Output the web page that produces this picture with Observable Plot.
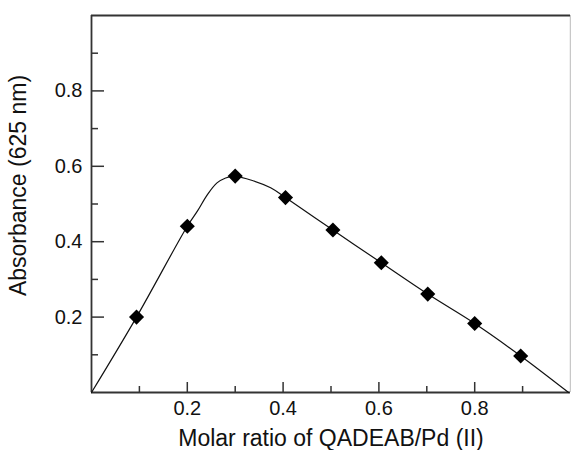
<!DOCTYPE html>
<html><head><meta charset="utf-8">
<script src="https://cdn.jsdelivr.net/npm/d3@7"></script>
<script src="https://cdn.jsdelivr.net/npm/@observablehq/plot@0.6"></script>
<style>body{margin:0;background:#fff} svg{display:block}</style>
</head><body><div id="chart"></div>
<script>
const ratio = [0.094, 0.2, 0.3, 0.405, 0.504, 0.605, 0.702, 0.8, 0.896];
const absorbance = [0.2, 0.441, 0.574, 0.517, 0.431, 0.344, 0.261, 0.183, 0.097];
// fitted curve
const curveRatio = [0, 0.094, 0.2, 0.221, 0.242, 0.262, 0.28, 0.297, 0.339, 0.374, 0.405, 0.504, 0.605, 0.702, 0.8, 0.896, 0.996];
const curveAbs   = [0, 0.2, 0.441, 0.481, 0.525, 0.556, 0.569, 0.574, 0.561, 0.543, 0.517, 0.431, 0.344, 0.261, 0.183, 0.097, 0];
const xMajor = [0.2, 0.4, 0.6, 0.8];
const xMinor = [0.1, 0.3, 0.5, 0.7, 0.9];
const yMajor = [0.2, 0.4, 0.6, 0.8];
const yMinor = [0.1, 0.3, 0.5, 0.7, 0.9];
const xTitle = "Molar ratio of QADEAB/Pd (II)";
const yTitle = "Absorbance (625 nm)";

const W = 571, H = 450, mL = 91, mR = 1, mT = 15, mB = 58;
const fw = W - mL - mR, fh = H - mT - mB;
const pts = ratio.map((x, i) => ({x, y: absorbance[i]}));
const curve = curveRatio.map((x, i) => ({x, y: curveAbs[i]}));

const chart = Plot.plot({
  width: W, height: H,
  marginLeft: mL, marginRight: mR, marginTop: mT, marginBottom: mB,
  style: {fontFamily: "'Liberation Sans', Arial, sans-serif", background: "#fff", color: "#111"},
  x: {domain: [0, 1]},
  y: {domain: [0, 1]},
  marks: [
    Plot.ruleX([1], {stroke: "#c8c8c8", strokeWidth: 1.5}),
    Plot.ruleY([1], {stroke: "#333", strokeWidth: 2}),
    Plot.ruleX([0], {stroke: "#333", strokeWidth: 1.8}),
    Plot.ruleY([0], {stroke: "#333", strokeWidth: 1.8}),
    Plot.tickX(xMajor, {x: d => d, insetTop: fh - 10, stroke: "#333", strokeWidth: 1.5}),
    Plot.tickX(xMinor, {x: d => d, insetTop: fh - 6, stroke: "#333", strokeWidth: 1.5}),
    Plot.tickY(yMajor, {y: d => d, insetRight: fw - 13, stroke: "#333", strokeWidth: 1.5}),
    Plot.tickY(yMinor, {y: d => d, insetRight: fw - 7, stroke: "#333", strokeWidth: 1.5}),
    Plot.axisX(xMajor, {tickSize: 0, tickPadding: 8, fontSize: 20, label: null, tickFormat: d3.format(".1f")}),
    Plot.axisY(yMajor, {tickSize: 0, tickPadding: 9, fontSize: 20, label: null, tickFormat: d3.format(".1f")}),
    Plot.line(curve, {x: "x", y: "y", curve: "catmull-rom", stroke: "#111", strokeWidth: 1.2}),
    Plot.dot(pts, {x: "x", y: "y", symbol: "diamond2", r: 6.8, fill: "#000", stroke: "none"}),
    Plot.text([xTitle], {frameAnchor: "bottom", dy: 46, lineAnchor: "middle", textAnchor: "middle", fontSize: 23, fill: "#111"}),
    Plot.text([yTitle], {frameAnchor: "left", dx: -72.5, dy: -18.5, rotate: -90, lineAnchor: "middle", textAnchor: "middle", fontSize: 23, fill: "#111"})
  ]
});
document.getElementById("chart").appendChild(chart);
</script>
</body></html>
